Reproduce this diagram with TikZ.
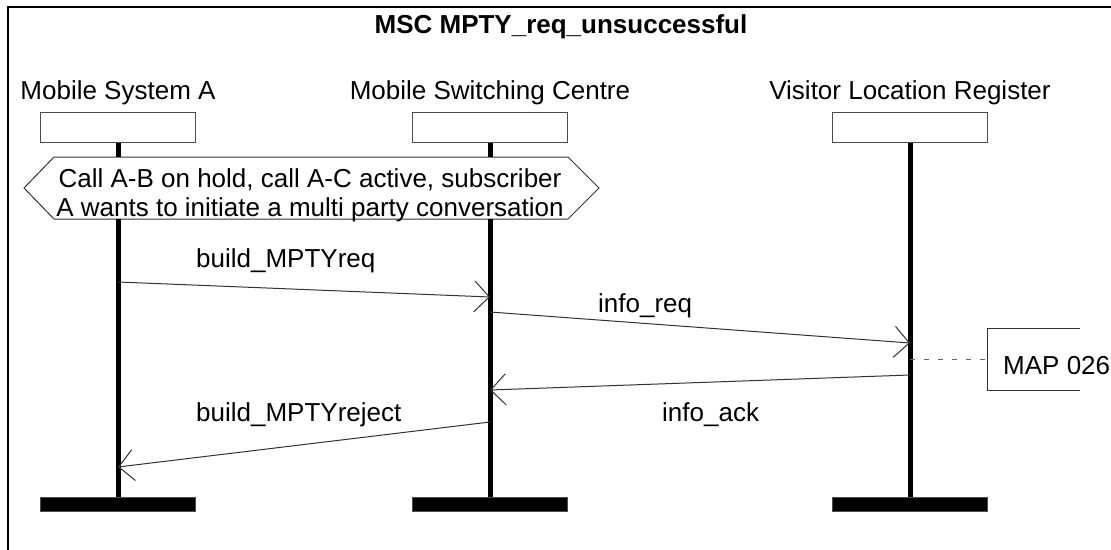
\documentclass[tikz,border=0pt]{standalone}
\usepackage{fontspec}
\setmainfont{Liberation Sans}
\usetikzlibrary{arrows.meta}
\begin{document}
\begin{tikzpicture}[x=1pt,y=-1pt,
  txt/.style={inner sep=0pt, font=\fontsize{26pt}{29pt}\selectfont},
  headbox/.style={draw=black!70, line width=1pt, minimum width=155pt, minimum height=30pt, inner sep=0pt},
  endbar/.style={draw=black!70, fill=black, line width=1pt, minimum width=155pt, minimum height=14pt, inner sep=0pt},
  lifeline/.style={line width=5pt},
  thinline/.style={draw=black!80, line width=1pt},
  msg/.style={thinline, -{Straight Barb[length=15pt,width=31pt]}},
]
\useasboundingbox (0,0) rectangle (1111,549);
\clip (0,0) rectangle (1111,549);

% outer frame
\draw[line width=2.5pt] (8,7) rectangle (1130,570);

% title
\node[txt, anchor=base, font={\fontsize{26pt}{29pt}\selectfont\bfseries}] (title) at (561,33) {MSC MPTY\_req\_unsuccessful};

% instance names
\node[txt, anchor=base] (nA) at (118,99) {Mobile System A};
\node[txt, anchor=base] (nM) at (490,99) {Mobile Switching Centre};
\node[txt, anchor=base] (nV) at (910,99) {Visitor Location Register};

% instance heads
\node[headbox] (A) at (118,127) {};
\node[headbox] (M) at (490,127) {};
\node[headbox] (V) at (910,127) {};

% instance ends
\node[endbar] (eA) at (118,504) {};
\node[endbar] (eM) at (490,504) {};
\node[endbar] (eV) at (910,504) {};

% condition (hexagon) covering A and MSC
\coordinate (hexN) at (0,157);
\coordinate (hexS) at (0,219);
\draw[thinline] (24,188) -- (54,157) -- (568,157) -- (599,188) -- (568,219) -- (54,219) -- cycle;
\node[txt, anchor=base, align=center] (cond) at (310,216)
  {Call A-B on hold, call A-C active, subscriber\\A wants to initiate a multi party conversation};

% lifelines
\draw[lifeline] (A.south) -- (A.south |- hexN);
\draw[lifeline] (A.south |- hexS) -- (eA.north);
\draw[lifeline] (M.south) -- (M.south |- hexN);
\draw[lifeline] (M.south |- hexS) -- (eM.north);
\draw[lifeline] (V.south) -- (eV.north);

% message end points on the lifelines
\coordinate (m1s) at (118,282);
\coordinate (m1e) at (490,297);
\coordinate (m2s) at (490,312);
\coordinate (m2e) at (910,343);
\coordinate (m3s) at (910,375);
\coordinate (m3e) at (490,390);
\coordinate (m4s) at (490,422);
\coordinate (m4e) at (118,467);

% messages
\draw[msg] (m1s) -- (m1e);
\draw[msg] (m2s) -- (m2e);
\draw[msg] (m3s) -- (m3e);
\draw[msg] (m4s) -- (m4e);

% message labels
\node[txt, anchor=base west] (l1) at (196,267) {build\_MPTYreq};
\node[txt, anchor=base west] (l2) at (598,312) {info\_req};
\node[txt, anchor=base west] (l3) at (662,421) {info\_ack};
\node[txt, anchor=base west] (l4) at (196,421) {build\_MPTYreject};

% comment attached to the VLR
\coordinate (cS) at (910,359);
\coordinate (cE) at (987,359);
\draw[draw=black!60, line width=1pt, dash pattern=on 5pt off 9pt] (cS) -- (cE);
\draw[thinline] (1080,328) -- (987,328) -- (987,390) -- (1080,390);
\node[txt, anchor=base west] (map) at (1003,374) {MAP 026};
\end{tikzpicture}
\end{document}
